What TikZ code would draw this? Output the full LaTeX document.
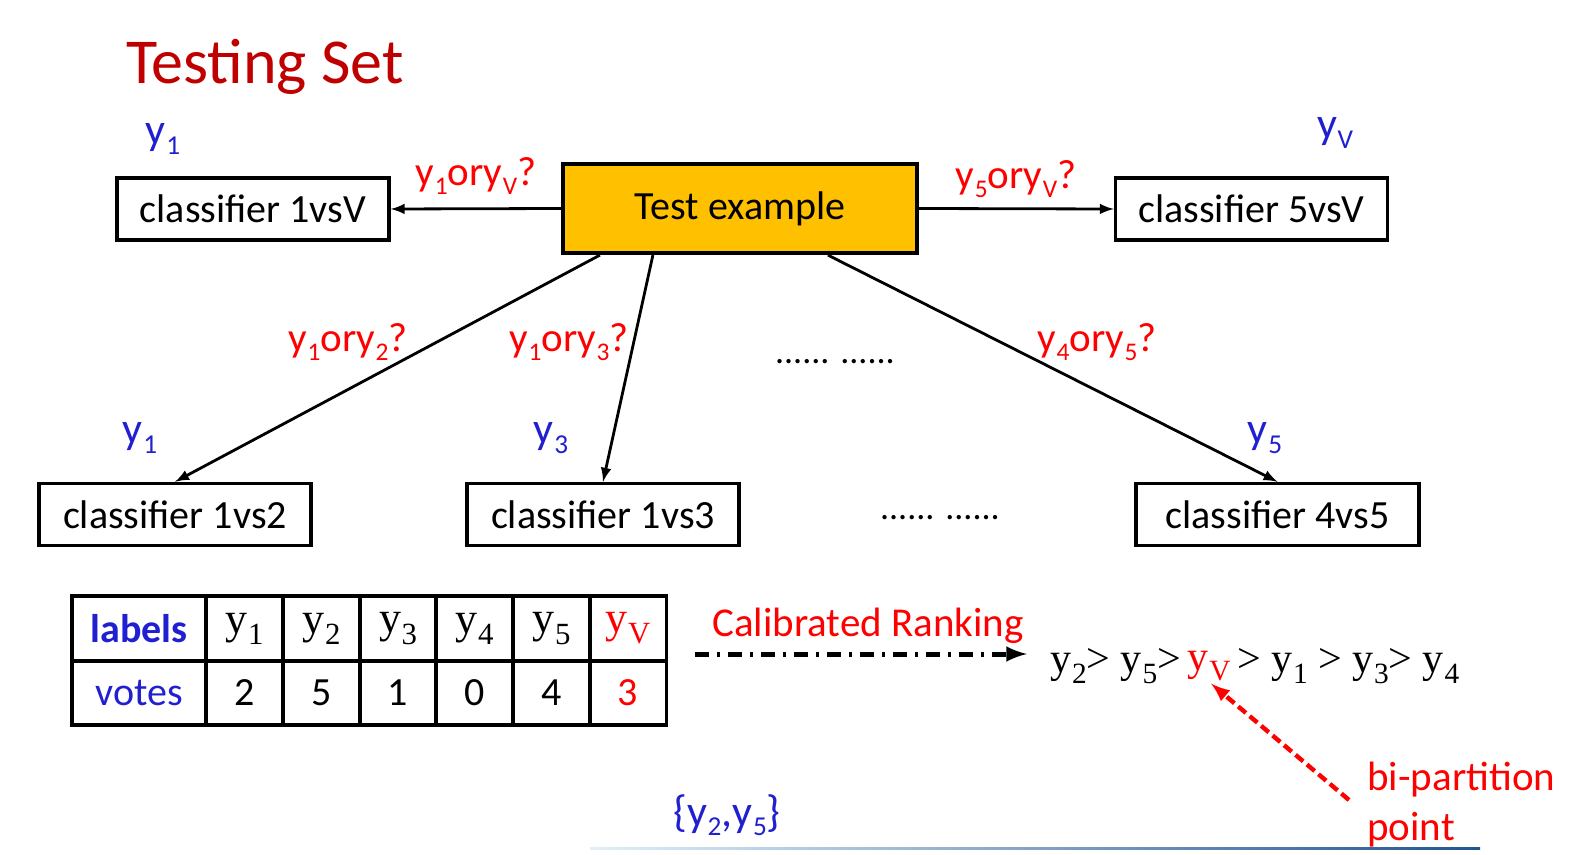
\documentclass[tikz,border=0pt]{standalone}
\usepackage{fontspec}
\setmainfont{Carlito}
\newfontfamily\timesfont{Liberation Serif}
\usepackage{xcolor}
\usetikzlibrary{arrows, positioning}

\definecolor{titlered}{RGB}{192,0,0}
\definecolor{labelblue}{RGB}{32,32,208}
\definecolor{boxyellow}{RGB}{255,192,0}
\definecolor{linelight}{RGB}{225,240,248}
\definecolor{linedark}{RGB}{35,85,145}

\newcommand{\ylab}[1]{y\kern0.3pt\raisebox{-0.45ex}{\scalebox{0.62}{#1}}}
\newcommand{\yser}[1]{y\kern0.3pt\raisebox{-0.55ex}{\scalebox{0.7}{#1}}}

\begin{document}
\begin{tikzpicture}[x=0.5pt, y=-0.5pt]

\tikzstyle{block}=[rectangle,draw,line width=1.7pt,minimum width=136pt,minimum height=31pt,inner sep=0pt,font=\fontsize{20}{24}\selectfont]
\tikzstyle{testbox}=[rectangle,draw,line width=2.1pt,fill=boxyellow,minimum width=177pt,minimum height=44.5pt,inner sep=0pt,font=\fontsize{20}{24}\selectfont]
\tikzstyle{pick}=[font=\fontsize{20.5}{24}\selectfont,text=red,inner sep=1pt]
\tikzstyle{side}=[font=\fontsize{22}{26}\selectfont,text=labelblue,inner sep=1pt]
\tikzstyle{dots}=[font=\fontsize{18}{20}\selectfont,inner sep=1pt]
\tikzstyle{cell}=[rectangle,draw,line width=1.7pt,minimum width=38.5pt,minimum height=32.5pt,inner sep=0pt,font=\fontsize{20}{24}\selectfont]
\tikzstyle{line}=[draw,line width=1.4pt,-latex]

\useasboundingbox (0,0) rectangle (1577,855);

\node (title) [font=\fontsize{32}{36}\selectfont,text=titlered] at (265,67) {Testing Set};

\node (test) [testbox] at (740,208.5) {Test example};

\node (c1V) [block] at (253,209) {classifier 1vsV};
\node (c5V) [block] at (1251.5,209) {classifier 5vsV};

\node (c12) [block] at (175,514.5) {classifier 1vs2};
\node (c13) [block] at (603,514.5) {classifier 1vs3};
\node (c45) [block,minimum width=141.5pt] at (1277.5,514.5) {classifier 4vs5};

% winners
\node (w1V) [side] at (163,139) {\ylab{1}};
\node (w5V) [side] at (1335,133) {\ylab{V}};
\node (w12) [side] at (140,438) {\ylab{1}};
\node (w13) [side] at (551,438) {\ylab{3}};
\node (w45) [side] at (1265,438) {\ylab{5}};

% questions
\node (q1V) [pick] at (476,176) {\ylab{1}or\ylab{V}?};
\node (q5V) [pick] at (1016,179) {\ylab{5}or\ylab{V}?};
\node (q12) [pick] at (348,342) {\ylab{1}or\ylab{2}?};
\node (q13) [pick] at (569,342) {\ylab{1}or\ylab{3}?};
\node (q45) [pick] at (1097,342) {\ylab{4}or\ylab{5}?};

\node (more1) [dots] at (835,362) {...... ......};
\node (more2) [dots] at (940,518) {...... ......};

% Connections
\draw[line] (test.west) -- (c1V.east);
\draw[line] (test.east) -- (c5V.west);
\draw[line] ([xshift=19.5pt]test.south west) -- (c12.north);
\draw[line] ([xshift=46pt]test.south west) -- (c13.north);
\draw[line] ([xshift=133.5pt]test.south west) -- (c45.north);

% vote table
\node (hlab) [cell,minimum width=67pt,font=\fontsize{20}{24}\selectfont\bfseries,text=labelblue] at (139,628.5) {labels};
\node (h1) [cell,font=\fontsize{22}{24}\timesfont] at (244.5,628.5) {\yser{1}};
\node (h2) [cell,font=\fontsize{22}{24}\timesfont] at (321.5,628.5) {\yser{2}};
\node (h3) [cell,font=\fontsize{22}{24}\timesfont] at (398,628.5) {\yser{3}};
\node (h4) [cell,font=\fontsize{22}{24}\timesfont] at (474.5,628.5) {\yser{4}};
\node (h5) [cell,font=\fontsize{22}{24}\timesfont] at (551.5,628.5) {\yser{5}};
\node (hV) [cell,font=\fontsize{22}{24}\timesfont,text=red] at (628,628.5) {\yser{V}};

\node (vlab) [cell,minimum width=67pt,minimum height=32pt,text=labelblue] at (139,693) {votes};
\node (v1) [cell,minimum height=32pt] at (244.5,693) {2};
\node (v2) [cell,minimum height=32pt] at (321.5,693) {5};
\node (v3) [cell,minimum height=32pt] at (398,693) {1};
\node (v4) [cell,minimum height=32pt] at (474.5,693) {0};
\node (v5) [cell,minimum height=32pt] at (551.5,693) {4};
\node (vV) [cell,minimum height=32pt,text=red] at (628,693) {3};

% ranking
\node (calib) [pick] at (868,626) {Calibrated Ranking};
\coordinate (calibstart) at (695,654);
\node (rankA) [font=\fontsize{21}{24}\timesfont,inner sep=0pt,anchor=west] at (1050,666) {\yser{2}> \yser{5}>};
\node (rankV) [font=\fontsize{21}{24}\timesfont,inner sep=0pt,text=red,right=3pt of rankA] {\yser{V}};
\node (rankB) [font=\fontsize{21}{24}\timesfont,inner sep=0pt,right=3pt of rankV] {> \yser{1} > \yser{3}> \yser{4}};

\draw[line,line width=2.5pt,dash pattern=on 7pt off 4pt on 1.5pt off 4pt] (calibstart) -- ([xshift=-11.5pt]rankA.west |- calibstart);

\node (bipart) [font=\fontsize{20.5}{25}\selectfont,text=red,align=left,anchor=north west,inner sep=0pt] at (1367,762) {bi-partition\\point};
\draw[line,draw=red,line width=2.2pt,dash pattern=on 5pt off 2.5pt] ([xshift=-9pt,yshift=-19pt]bipart.north west) -- ([xshift=1pt,yshift=-1pt]rankV.south);

\node (subset) [side] at (727,815) {\{\ylab{2},\ylab{5}\}};

\shade[left color=linelight,right color=linedark] (590,847) rectangle (1480,849.5);

\end{tikzpicture}
\end{document}
